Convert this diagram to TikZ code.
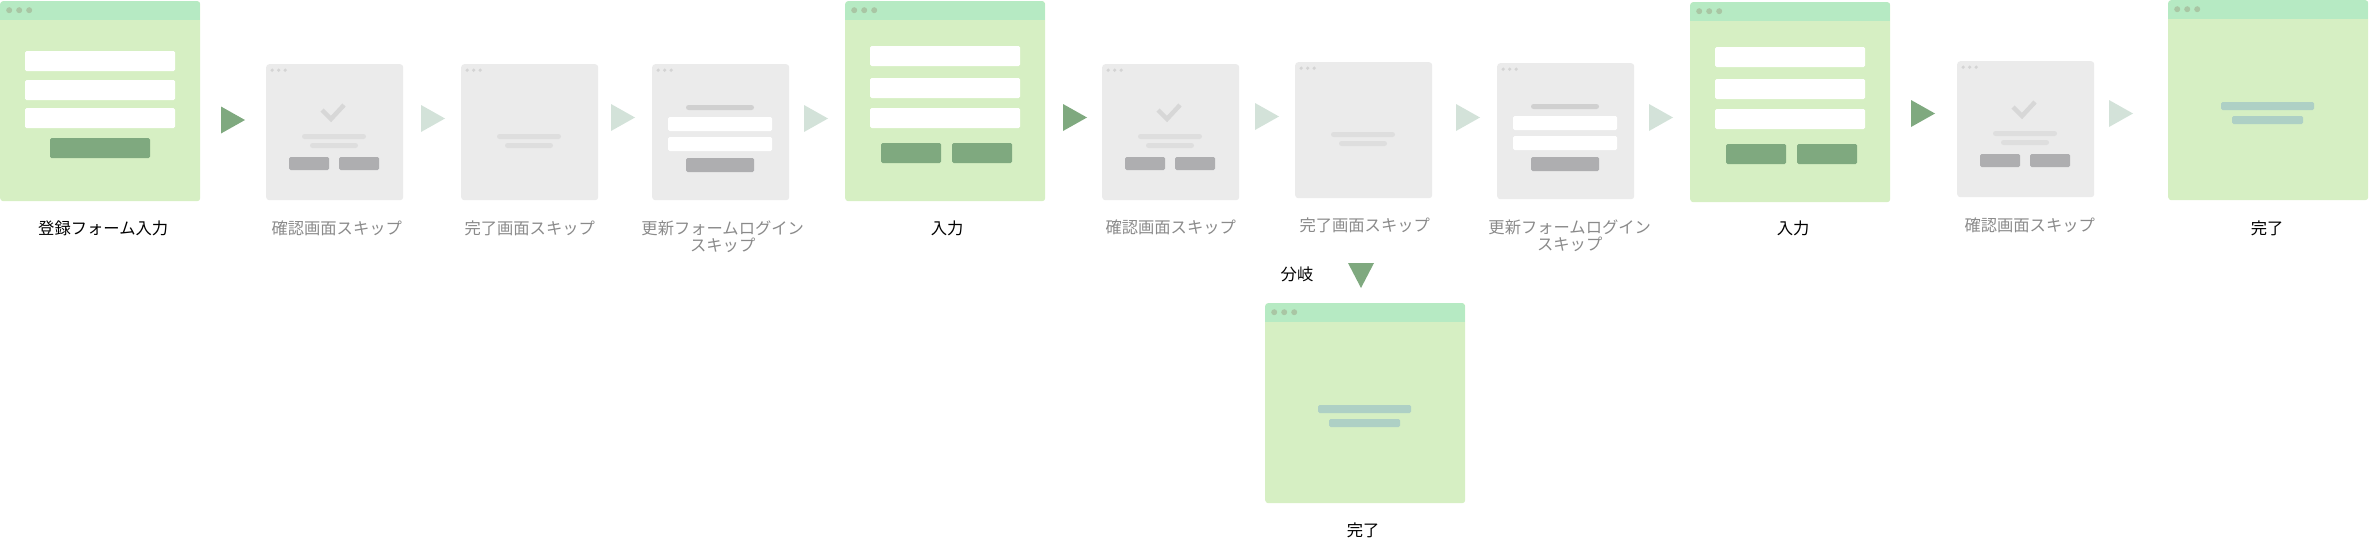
\documentclass[tikz,border=0pt]{standalone}
\usepackage{fontspec}
\setmainfont{Noto Sans CJK JP}
\usetikzlibrary{calc}
\definecolor{bodygreen}{HTML}{D6EFC3}
\definecolor{headgreen}{HTML}{B6EAC3}
\definecolor{dotgreen}{HTML}{A9C6A4}
\definecolor{btngreen}{HTML}{7FA97F}
\definecolor{doneteal}{HTML}{AED0C5}
\definecolor{skipgray}{HTML}{EBEBEB}
\definecolor{dotgray}{HTML}{D4D4D4}
\definecolor{linegray}{HTML}{DEDEDE}
\definecolor{titlegray}{HTML}{D0D0D0}
\definecolor{btngray}{HTML}{AEAEB0}
\definecolor{arrowpale}{HTML}{D3E2D9}
\definecolor{labelgray}{HTML}{8A8A8A}
\tikzset{
  greenwin/.style={
    fill=bodygreen,
    rounded corners=3pt,
    inner sep=0pt,
    minimum width=200pt,
    minimum height=200pt,
    anchor=north west,
    path picture={
      \fill[headgreen,sharp corners] (path picture bounding box.north west)
        rectangle ([yshift=-19pt]path picture bounding box.north east);
      \foreach \d in {9,19,29}
        \fill[dotgreen] ([xshift=\d pt,yshift=-9pt]path picture bounding box.north west) circle[radius=3pt];
    }
  },
  graywin/.style={
    fill=skipgray,
    rounded corners=3pt,
    inner sep=0pt,
    minimum width=137pt,
    minimum height=136pt,
    anchor=north west,
    path picture={
      \foreach \d in {6,12.5,19}
        \fill[dotgray] ([xshift=\d pt,yshift=-6pt]path picture bounding box.north west) circle[radius=1.8pt];
    }
  },
  field/.style={fill=white, rounded corners=1.5pt},
  greenbtn/.style={fill=btngreen, rounded corners=1.5pt},
  grayline/.style={fill=linegray, rounded corners=2.5pt},
  graybtn/.style={fill=btngray, rounded corners=1.5pt},
  doneline/.style={fill=doneteal, rounded corners=1.5pt},
  darkarrow/.style={fill=btngreen},
  palearrow/.style={fill=arrowpale},
  darklabel/.style={
    anchor=base,
    inner sep=0pt,
    text=black,
    font=\fontsize{16.3}{17}\selectfont
  },
  palelabel/.style={darklabel, text=labelgray, align=center}
}
\begin{document}
\begin{tikzpicture}[x=1pt,y=-1pt]
  \useasboundingbox (0,0) rectangle (2369,557);
  % screens
  \node[greenwin] (g1) at (0,1) {};
  \node[graywin] (s1) at (266,64) {};
  \node[graywin] (s2) at (461,64) {};
  \node[graywin] (s3) at (652,64) {};
  \node[greenwin] (g2) at (845,1) {};
  \node[graywin] (s4) at (1102,64) {};
  \node[graywin] (s5) at (1295,62) {};
  \node[graywin] (s6) at (1497,63) {};
  \node[greenwin] (g3) at (1690,2) {};
  \node[graywin] (s7) at (1957,61) {};
  \node[greenwin] (g4) at (2168,0) {};
  \node[greenwin] (g5) at (1265,303) {};
  % input forms
  \foreach \w/\a/\b/\c in {g1/50/79/107, g2/45/77/107, g3/45/77/107}
    \foreach \y in {\a,\b,\c}
      \fill[field] ($(\w.north west)+(25,\y)$) rectangle ++(150,20);
  \fill[greenbtn] ($(g1.north west)+(50,137)$) rectangle ++(100,20);
  \foreach \w in {g2,g3}{
    \fill[greenbtn] ($(\w.north west)+(36,142)$) rectangle ++(60,20);
    \fill[greenbtn] ($(\w.north west)+(107,142)$) rectangle ++(60,20);
  }
  % done screens
  \foreach \w in {g4,g5}{
    \fill[doneline] ($(\w.north west)+(53,102)$) rectangle ++(93,8);
    \fill[doneline] ($(\w.north west)+(64,116)$) rectangle ++(71,8);
  }
  % skipped confirm screens
  \foreach \w in {s1,s4,s7}{
    \draw[linegray!85!black!60, line width=4.5pt] ($(\w.north west)+(56,46)$)
      -- ($(\w.north west)+(65,55)$) -- ($(\w.north west)+(78,41)$);
    \fill[grayline] ($(\w.north west)+(36,70)$) rectangle ++(64,5);
    \fill[grayline] ($(\w.north west)+(44,79)$) rectangle ++(48,5);
    \fill[graybtn] ($(\w.north west)+(23,93)$) rectangle ++(40,13);
    \fill[graybtn] ($(\w.north west)+(73,93)$) rectangle ++(40,13);
  }
  % skipped done screens
  \foreach \w in {s2,s5}{
    \fill[grayline] ($(\w.north west)+(36,70)$) rectangle ++(64,5);
    \fill[grayline] ($(\w.north west)+(44,79)$) rectangle ++(48,5);
  }
  % skipped update forms
  \foreach \w in {s3,s6}{
    \fill[titlegray, rounded corners=2.5pt] ($(\w.north west)+(34,41)$) rectangle ++(68,5);
    \fill[field] ($(\w.north west)+(16,53)$) rectangle ++(104,14);
    \fill[field] ($(\w.north west)+(16,73)$) rectangle ++(104,14);
    \fill[graybtn] ($(\w.north west)+(34,94)$) rectangle ++(68,14);
  }
  % arrows
  \foreach \x/\y in {233/120, 1075/117.5, 1923/113.5}
    \fill[darkarrow] (\x-12,\y-13.5) -- (\x+12,\y) -- (\x-12,\y+13.5) -- cycle;
  \foreach \x/\y in {433/118.5, 623/117.5, 816/118.5, 1267/116.5, 1468/117.5, 1661/117.5, 2121/113.5}
    \fill[palearrow] (\x-12,\y-13.5) -- (\x+12,\y) -- (\x-12,\y+13.5) -- cycle;
  \fill[darkarrow] (1348,263) -- (1374,263) -- (1361,288) -- cycle;
  % labels
  \node[darklabel] (l1) at ($(g1.south)+(3,33)$) {登録フォーム入力};
  \node[palelabel] (l2) at ($(s1.south)+(2,34)$) {確認画面スキップ};
  \node[palelabel] (l3) at ($(s2.south)+(0,34)$) {完了画面スキップ};
  \node[palelabel] (l4) at ($(s3.south)+(2,51)$) {更新フォームログイン\\スキップ};
  \node[darklabel] (l5) at ($(g2.south)+(2,33)$) {入力};
  \node[palelabel] (l6) at ($(s4.south)+(0,33)$) {確認画面スキップ};
  \node[palelabel] (l7) at ($(s5.south)+(1,33)$) {完了画面スキップ};
  \node[palelabel] (l8) at ($(s6.south)+(4,51)$) {更新フォームログイン\\スキップ};
  \node[darklabel] (l9) at ($(g3.south)+(3,32)$) {入力};
  \node[palelabel] (l10) at ($(s7.south)+(4,34)$) {確認画面スキップ};
  \node[darklabel] (l11) at ($(g4.south)+(-1,34)$) {完了};
  \node[darklabel] (l12) at ($(g5.south)+(-2,33)$) {完了};
  \node[darklabel] (fork) at (1297,280) {分岐};
\end{tikzpicture}
\end{document}
